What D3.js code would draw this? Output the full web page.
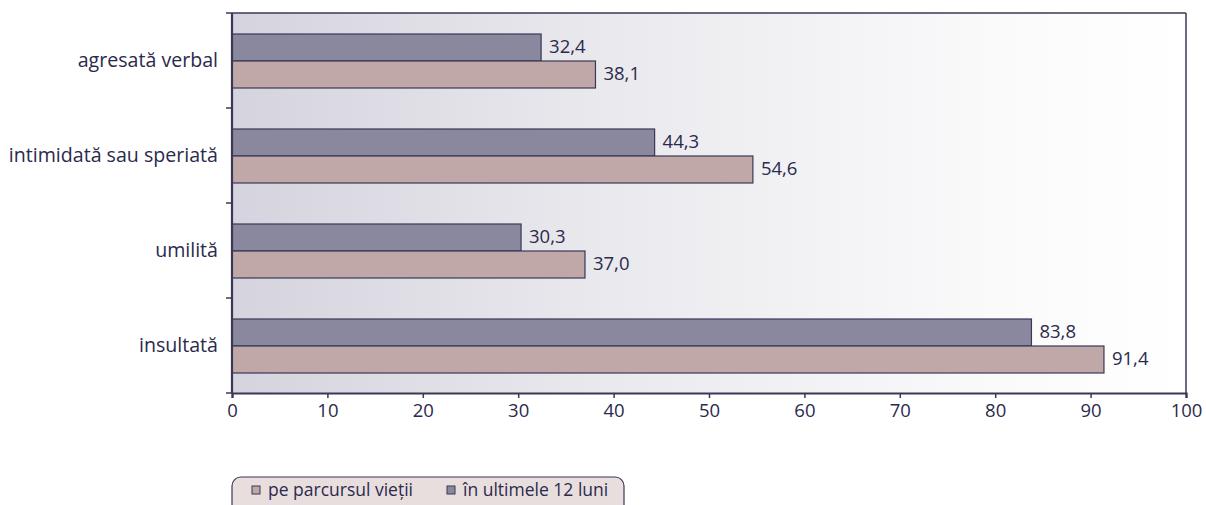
<!DOCTYPE html>
<html><head><meta charset="utf-8">
<script src="https://cdn.jsdelivr.net/npm/d3@7"></script>
<style>body{margin:0;background:#fff}svg{display:block}text{font-family:"Open Sans","Noto Sans",sans-serif;fill:#2b2a4c}</style>
</head><body><svg id="c" width="1206" height="505"></svg>
<script>
const categories = ["agresată verbal","intimidată sau speriată","umilită","insultată"];
const lifetime = [38.1, 54.6, 37.0, 91.4];
const last12 = [32.4, 44.3, 30.3, 83.8];
const xTicks = [0,10,20,30,40,50,60,70,80,90,100];
const seriesNames = ["pe parcursul vieții","în ultimele 12 luni"];
const colors = {life:"#bfa8a7", last:"#8a889f", stroke:"#3b3756", text:"#2b2a4c"};
const FS = 18.5, FL = 19.6;

const svg = d3.select("#c");
const L=232, R=1186, T=13, B=393;
const x = d3.scaleLinear().domain([0,100]).range([L,R]);
const y = d3.scaleBand().domain(categories).range([T,B]);

const defs = svg.append("defs");
const g = defs.append("linearGradient").attr("id","bg").attr("x1","0").attr("x2","1").attr("y1","0").attr("y2","0");
g.append("stop").attr("offset","0").attr("stop-color","#d5d4de");
g.append("stop").attr("offset","0.45").attr("stop-color","#ececf0");
g.append("stop").attr("offset","0.8").attr("stop-color","#fafafb");
g.append("stop").attr("offset","1").attr("stop-color","#ffffff");
svg.append("rect").attr("x",L).attr("y",T).attr("width",R-L).attr("height",B-T).attr("fill","url(#bg)");

const barH = 27, off = 21;
const fmt = v => v.toFixed(1).replace(".",",");

categories.forEach((c,i)=>{
  const y0 = y(c)+off;
  svg.append("rect").attr("x",x(0)).attr("y",y0).attr("width",x(last12[i])-x(0)).attr("height",barH)
    .attr("fill",colors.last).attr("stroke",colors.stroke).attr("stroke-width",1.2);
  svg.append("rect").attr("x",x(0)).attr("y",y0+barH).attr("width",x(lifetime[i])-x(0)).attr("height",barH)
    .attr("fill",colors.life).attr("stroke",colors.stroke).attr("stroke-width",1.2);
  svg.append("text").attr("x",x(last12[i])+8).attr("y",y0+barH/2-1).attr("dy","0.35em").attr("font-size",FS).text(fmt(last12[i]));
  svg.append("text").attr("x",x(lifetime[i])+8).attr("y",y0+barH*1.5-1).attr("dy","0.35em").attr("font-size",FS).text(fmt(lifetime[i]));
  svg.append("text").attr("x",218).attr("y",y0+barH).attr("dy","0.3em").attr("text-anchor","end").attr("font-size",FL).text(c);
});

svg.append("line").attr("x1",L).attr("x2",R).attr("y1",T).attr("y2",T).attr("stroke",colors.stroke).attr("stroke-width",1.5);
svg.append("line").attr("x1",R).attr("x2",R).attr("y1",T).attr("y2",B).attr("stroke",colors.stroke).attr("stroke-width",1.5);

const xa = svg.append("g").attr("transform",`translate(0,${B})`)
  .call(d3.axisBottom(x).tickValues(xTicks).tickSize(5).tickPadding(6).tickFormat(d=>d));
xa.select(".domain").attr("stroke",colors.stroke).attr("stroke-width",2.2);
xa.selectAll(".tick line").attr("stroke",colors.stroke).attr("stroke-width",1.5);
xa.selectAll(".tick text").attr("font-size",FS).attr("fill",colors.text).style("font-family",'"Open Sans","Noto Sans",sans-serif');

const bounds = categories.map(c=>y(c)).concat([B]);
svg.append("line").attr("x1",L).attr("x2",L).attr("y1",T).attr("y2",B).attr("stroke",colors.stroke).attr("stroke-width",2.2);
svg.selectAll(".yt").data(bounds).enter().append("line").attr("x1",L-6).attr("x2",L).attr("y1",d=>d).attr("y2",d=>d)
  .attr("stroke",colors.stroke).attr("stroke-width",1.5);

const lg = svg.append("g");
lg.append("rect").attr("x",232).attr("y",477).attr("width",392).attr("height",40).attr("rx",9)
  .attr("fill","#e9dede").attr("stroke",colors.stroke).attr("stroke-width",1.2);
const items = [{n:seriesNames[0],c:colors.life,x:252},{n:seriesNames[1],c:colors.last,x:447}];
items.forEach(it=>{
  lg.append("rect").attr("x",it.x).attr("y",486).attr("width",8).attr("height",8).attr("fill",it.c).attr("stroke",colors.stroke).attr("stroke-width",1);
  lg.append("text").attr("x",it.x+16).attr("y",490).attr("dy","0.35em").attr("font-size",17.5).text(it.n);
});
</script></body></html>
